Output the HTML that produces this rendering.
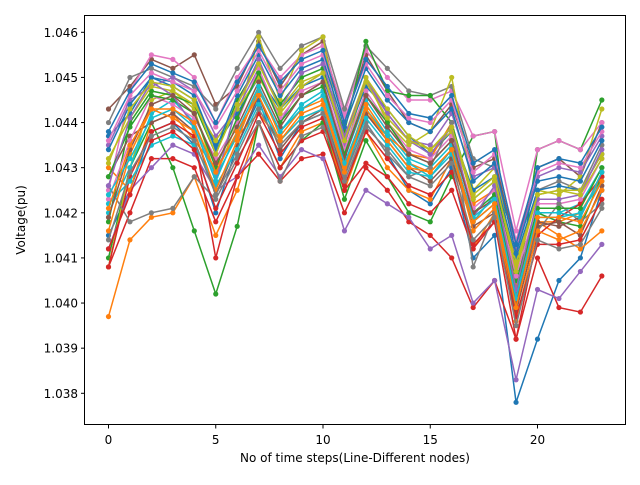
<!DOCTYPE html>
<html><head><meta charset="utf-8"><style>
body{margin:0;background:#fff;}
svg text{font-family:"DejaVu Sans","Liberation Sans",sans-serif;font-size:12px;fill:#000;}
</style></head><body>
<svg id="chart" width="640" height="480" xmlns="http://www.w3.org/2000/svg">
<rect width="640" height="480" fill="#fff"/>
<g id="series"></g>
<rect x="84.5" y="15.5" width="541" height="409" fill="none" stroke="#000" stroke-width="1"/>
<g id="xticks"></g>
<g id="yticks"></g>
<text x="355" y="462" text-anchor="middle">No of time steps(Line-Different nodes)</text>
<text transform="translate(25,220) rotate(-90)" text-anchor="middle">Voltage(pu)</text>
</svg>
<script>
const xTicks=[0,5,10,15,20];
const yTicks=[1.038,1.039,1.040,1.041,1.042,1.043,1.044,1.045,1.046];
const colors=["#1f77b4","#ff7f0e","#2ca02c","#d62728","#9467bd","#8c564b","#e377c2","#7f7f7f","#bcbd22","#17becf"];
const s1=[1.0415,1.0425,1.0438,1.0440,1.0435,1.0420,1.0435,1.0445,1.0432,1.0440,1.0442,1.0425,1.0440,1.0433,1.0425,1.0422,1.0430,1.0410,1.0415,1.0378,1.0392,1.0405,1.0410,1.0425];
const s2=[1.0397,1.0414,1.0419,1.0420,1.0428,1.0415,1.0425,1.0440,1.0430,1.0438,1.0440,1.0425,1.0438,1.0430,1.0425,1.0423,1.0432,1.0412,1.0420,1.0400,1.0418,1.0415,1.0412,1.0416];
const s3=[1.0410,1.0430,1.0440,1.0430,1.0416,1.0402,1.0417,1.0440,1.0430,1.0436,1.0440,1.0423,1.0436,1.0428,1.0420,1.0418,1.0428,1.0437,1.0438,1.0400,1.0434,1.0436,1.0434,1.0445];
const s4=[1.0408,1.0420,1.0432,1.0432,1.0430,1.0418,1.0428,1.0433,1.0427,1.0432,1.0433,1.0420,1.0430,1.0425,1.0418,1.0415,1.0410,1.0399,1.0405,1.0392,1.0410,1.0399,1.0398,1.0406];
const s5=[1.0412,1.0425,1.0430,1.0435,1.0433,1.0425,1.0428,1.0435,1.0428,1.0434,1.0432,1.0416,1.0425,1.0422,1.0419,1.0412,1.0415,1.0400,1.0405,1.0383,1.0403,1.0401,1.0407,1.0413];
const s6=[1.0443,1.0448,1.0454,1.0452,1.0455,1.0444,1.0448,1.0458,1.0448,1.0455,1.0458,1.0440,1.0455,1.0447,1.0440,1.0438,1.0444,1.0430,1.0432,1.0412,1.0430,1.0432,1.0428,1.0440];
const s7=[1.0425,1.0447,1.0455,1.0454,1.0450,1.0440,1.0450,1.0457,1.0450,1.0455,1.0457,1.0442,1.0456,1.0450,1.0445,1.0445,1.0447,1.0437,1.0438,1.0416,1.0434,1.0436,1.0434,1.0440];
const s8=[1.0440,1.0450,1.0452,1.0450,1.0448,1.0443,1.0452,1.0460,1.0452,1.0457,1.0459,1.0443,1.0457,1.0452,1.0447,1.0446,1.0448,1.0432,1.0430,1.0408,1.0425,1.0427,1.0425,1.0435];
const s9=[1.0408,1.0430,1.0445,1.0447,1.0443,1.0428,1.0440,1.0459,1.0445,1.0456,1.0459,1.0433,1.0450,1.0440,1.0435,1.0438,1.0450,1.0425,1.0430,1.0408,1.0425,1.0424,1.0428,1.0443];
const s10=[1.0420,1.0430,1.0442,1.0445,1.0440,1.0428,1.0437,1.0447,1.0438,1.0444,1.0447,1.0432,1.0445,1.0438,1.0432,1.0430,1.0435,1.0418,1.0424,1.0402,1.0420,1.0420,1.0422,1.0430];
const s11=[1.0437,1.0442,1.0450,1.0448,1.0445,1.0435,1.0442,1.0450,1.0443,1.0448,1.0450,1.0436,1.0448,1.0443,1.0437,1.0433,1.0438,1.0425,1.0428,1.0410,1.0425,1.0426,1.0425,1.0433];
const s12=[1.0430,1.0425,1.0440,1.0442,1.0436,1.0430,1.0437,1.0442,1.0436,1.0441,1.0443,1.0430,1.0442,1.0437,1.0433,1.0432,1.0440,1.0422,1.0425,1.0404,1.0418,1.0418,1.0420,1.0428];
const s13=[1.0418,1.0440,1.0447,1.0446,1.0444,1.0433,1.0445,1.0453,1.0444,1.0450,1.0452,1.0438,1.0458,1.0447,1.0446,1.0446,1.0440,1.0423,1.0427,1.0405,1.0420,1.0418,1.0417,1.0428];
const s14=[1.0408,1.0428,1.0438,1.0440,1.0437,1.0410,1.0428,1.0440,1.0430,1.0436,1.0438,1.0425,1.0431,1.0428,1.0422,1.0420,1.0425,1.0412,1.0418,1.0392,1.0415,1.0419,1.0422,1.0428];
const s15=[1.0435,1.0445,1.0448,1.0450,1.0447,1.0437,1.0443,1.0452,1.0440,1.0448,1.0451,1.0435,1.0450,1.0442,1.0436,1.0435,1.0442,1.0428,1.0430,1.0412,1.0428,1.0430,1.0429,1.0437];
const s16=[1.0428,1.0437,1.0440,1.0442,1.0438,1.0424,1.0435,1.0446,1.0434,1.0440,1.0443,1.0428,1.0442,1.0436,1.0430,1.0427,1.0432,1.0417,1.0420,1.0398,1.0417,1.0418,1.0415,1.0426];
const s17=[1.0423,1.0436,1.0446,1.0444,1.0441,1.0432,1.0440,1.0452,1.0441,1.0447,1.0449,1.0434,1.0447,1.0440,1.0434,1.0432,1.0437,1.0421,1.0425,1.0406,1.0422,1.0422,1.0423,1.0432];
const s18=[1.0426,1.0418,1.0420,1.0421,1.0428,1.0423,1.0432,1.0440,1.0427,1.0437,1.0439,1.0428,1.0440,1.0433,1.0428,1.0430,1.0440,1.0408,1.0420,1.0402,1.0416,1.0422,1.0418,1.0422];
const s19=[1.0432,1.0441,1.0448,1.0447,1.0444,1.0436,1.0443,1.0450,1.0442,1.0448,1.0451,1.0437,1.0450,1.0443,1.0437,1.0434,1.0438,1.0423,1.0427,1.0409,1.0424,1.0425,1.0425,1.0433];
const s20=[1.0422,1.0427,1.0435,1.0437,1.0435,1.0426,1.0434,1.0444,1.0436,1.0441,1.0443,1.0429,1.0441,1.0435,1.0429,1.0428,1.0433,1.0418,1.0422,1.0401,1.0419,1.0419,1.0420,1.0427];
const s21=[1.0434,1.0444,1.0450,1.0449,1.0446,1.0434,1.0446,1.0455,1.0446,1.0452,1.0454,1.0439,1.0452,1.0445,1.0440,1.0438,1.0443,1.0427,1.0431,1.0411,1.0427,1.0428,1.0427,1.0436];
const s22=[1.0416,1.0433,1.0443,1.0441,1.0438,1.0425,1.0436,1.0448,1.0437,1.0443,1.0445,1.0430,1.0444,1.0437,1.0431,1.0429,1.0434,1.0416,1.0421,1.0396,1.0416,1.0414,1.0416,1.0425];
const s23=[1.0428,1.0439,1.0446,1.0445,1.0442,1.0430,1.0441,1.0451,1.0440,1.0446,1.0448,1.0433,1.0446,1.0440,1.0433,1.0431,1.0436,1.0420,1.0424,1.0403,1.0421,1.0421,1.0421,1.0430];
const s24=[1.0412,1.0424,1.0436,1.0438,1.0434,1.0421,1.0431,1.0442,1.0433,1.0439,1.0441,1.0426,1.0438,1.0432,1.0426,1.0424,1.0429,1.0413,1.0418,1.0397,1.0413,1.0413,1.0414,1.0423];
const s25=[1.0426,1.0441,1.0449,1.0446,1.0439,1.0427,1.0444,1.0454,1.0443,1.0451,1.0453,1.0437,1.0449,1.0442,1.0436,1.0433,1.0439,1.0419,1.0426,1.0403,1.0423,1.0423,1.0424,1.0434];
const s26=[1.0419,1.0434,1.0444,1.0446,1.0442,1.0431,1.0439,1.0449,1.0439,1.0446,1.0449,1.0432,1.0446,1.0439,1.0433,1.0431,1.0436,1.0420,1.0423,1.0400,1.0418,1.0417,1.0419,1.0429];
const s27=[1.0436,1.0446,1.0451,1.0449,1.0447,1.0439,1.0447,1.0456,1.0447,1.0453,1.0455,1.0441,1.0453,1.0446,1.0441,1.0440,1.0445,1.0429,1.0433,1.0414,1.0429,1.0431,1.0430,1.0438];
const s28=[1.0414,1.0429,1.0437,1.0439,1.0436,1.0424,1.0433,1.0443,1.0435,1.0440,1.0442,1.0427,1.0439,1.0434,1.0428,1.0426,1.0431,1.0414,1.0419,1.0395,1.0414,1.0412,1.0413,1.0421];
const s29=[1.0431,1.0443,1.0449,1.0448,1.0445,1.0433,1.0444,1.0453,1.0443,1.0449,1.0451,1.0436,1.0449,1.0441,1.0436,1.0434,1.0439,1.0424,1.0428,1.0407,1.0424,1.0425,1.0424,1.0432];
const s30=[1.0424,1.0432,1.0441,1.0443,1.0439,1.0427,1.0438,1.0448,1.0438,1.0443,1.0446,1.0431,1.0443,1.0437,1.0431,1.0428,1.0434,1.0419,1.0423,1.0401,1.0420,1.0420,1.0419,1.0429];
const s31=[1.0438,1.0447,1.0453,1.0451,1.0449,1.0440,1.0449,1.0457,1.0449,1.0454,1.0456,1.0440,1.0454,1.0448,1.0442,1.0441,1.0446,1.0431,1.0434,1.0413,1.0430,1.0432,1.0431,1.0439];
const s32=[1.0421,1.0435,1.0443,1.0443,1.0440,1.0429,1.0438,1.0446,1.0436,1.0442,1.0444,1.0429,1.0443,1.0436,1.0430,1.0429,1.0434,1.0418,1.0422,1.0399,1.0419,1.0419,1.0418,1.0427];
const seriesList=[s1,s2,s3,s4,s5,s6,s7,s8,s9,s10,s11,s12,s13,s14,s15,s16,s17,s18,s19,s20,s21,s22,s23,s24,s25,s26,s27,s28,s29,s30,s31,s32];

const X0=108.5,XS=21.45,YREF=1.046,YREFPX=32.3,YS=45.125;
function xPx(v){return X0+v*XS;}
function yPx(v){return YREFPX+(YREF-v)/0.001*YS;}
const NS="http://www.w3.org/2000/svg";
const sg=document.getElementById('series');
seriesList.forEach((s,i)=>{
  const c=colors[i%10];
  const pl=document.createElementNS(NS,'polyline');
  pl.setAttribute('points',s.map((v,t)=>xPx(t)+','+yPx(v)).join(' '));
  pl.setAttribute('fill','none');pl.setAttribute('stroke',c);pl.setAttribute('stroke-width','1.5');
  
  
  sg.appendChild(pl);
  s.forEach((v,t)=>{
    const ci=document.createElementNS(NS,'circle');
    ci.setAttribute('cx',xPx(t));ci.setAttribute('cy',yPx(v));ci.setAttribute('r','2.6');ci.setAttribute('fill',c);
    
    
    sg.appendChild(ci);
  });
});
const xg=document.getElementById('xticks');
xTicks.forEach(v=>{
  const x=xPx(v);
  const l=document.createElementNS(NS,'line');
  l.setAttribute('x1',x);l.setAttribute('x2',x);l.setAttribute('y1',425);l.setAttribute('y2',428.5);l.setAttribute('stroke','#000');
  
  
  xg.appendChild(l);
  const t=document.createElementNS(NS,'text');
  t.setAttribute('x',x);t.setAttribute('y',444);t.setAttribute('text-anchor','middle');t.textContent=v;
  
  
  xg.appendChild(t);
});
const yg=document.getElementById('yticks');
yTicks.forEach(v=>{
  const y=yPx(v);
  const l=document.createElementNS(NS,'line');
  l.setAttribute('x1',81);l.setAttribute('x2',84.5);l.setAttribute('y1',y);l.setAttribute('y2',y);l.setAttribute('stroke','#000');
  
  
  yg.appendChild(l);
  const t=document.createElementNS(NS,'text');
  t.setAttribute('x',78);t.setAttribute('y',y+4.5);t.setAttribute('text-anchor','end');t.textContent=v.toFixed(3);
  
  
  yg.appendChild(t);
});
</script>
</body></html>
